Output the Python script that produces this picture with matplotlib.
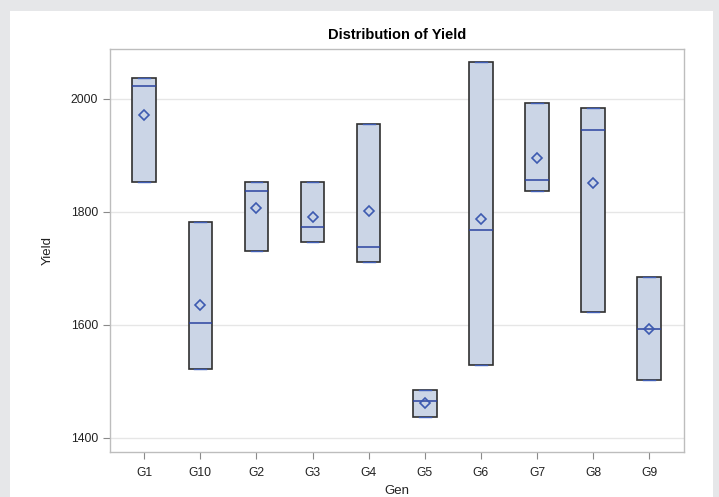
import matplotlib
matplotlib.use("Agg")
import matplotlib.pyplot as plt
import numpy as np
from matplotlib.patches import Rectangle

plt.rcParams['font.family'] = ['Liberation Sans', 'DejaVu Sans']

gens = ["G1", "G10", "G2", "G3", "G4", "G5", "G6", "G7", "G8", "G9"]
obs_G1 = [1852, 2022, 2037]
obs_G10 = [1521, 1602, 1781]
obs_G2 = [1730, 1837, 1852]
obs_G3 = [1746, 1772, 1852]
obs_G4 = [1710, 1737, 1956]
obs_G5 = [1436, 1465, 1484]
obs_G6 = [1528, 1767, 2065]
obs_G7 = [1837, 1856, 1993]
obs_G8 = [1623, 1945, 1983]
obs_G9 = [1502, 1593, 1684]
all_obs = [obs_G1, obs_G10, obs_G2, obs_G3, obs_G4, obs_G5, obs_G6, obs_G7, obs_G8, obs_G9]
yticks = [1400, 1600, 1800, 2000]

W, H = 719, 497
fig = plt.figure(figsize=(W / 100, H / 100), dpi=100)
fig.patch.set_facecolor('#E6E7E9')
bg = Rectangle((10 / W, 0), (713 - 10) / W, 1 - 11 / H,
               transform=fig.transFigure, facecolor='white',
               edgecolor='none', zorder=-10)
fig.patches.append(bg)

ax = fig.add_axes([110 / W, 1 - 451.7 / H, (684 - 110) / W, (451.7 - 49) / H])
ax.set_zorder(1)

stats = []
for g, o in zip(gens, all_obs):
    a = np.sort(np.array(o, dtype=float))
    stats.append(dict(label=g, med=np.median(a), q1=a.min(), q3=a.max(),
                      whislo=a.min(), whishi=a.max(), mean=a.mean(), fliers=[]))

pos = np.arange(len(gens))
ax.bxp(stats, positions=pos, widths=0.42, showmeans=True, patch_artist=True,
       showcaps=True, capwidths=0.21,
       boxprops=dict(facecolor='#CBD5E6', edgecolor='#303030', linewidth=1.2),
       medianprops=dict(color='#2B43A0', linewidth=1.1),
       whiskerprops=dict(color='#2B43A0', linewidth=1.0),
       capprops=dict(color='#3F5DB5', linewidth=1.0),
       meanprops=dict(marker='D', markerfacecolor='none', markeredgecolor='#3D5AB0',
                      markersize=5.5, markeredgewidth=1.2))

ax.set_xlim(-0.61, 9.62)
ax.set_ylim(1375, 2088)
ax.set_yticks(yticks)
ax.set_xticks(pos)
ax.set_xticklabels(gens)
ax.grid(axis='y', color='#E6E6E6', linewidth=1.0, zorder=0)
ax.set_axisbelow(True)
for s in ax.spines.values():
    s.set_color('#BDBDBD')
    s.set_linewidth(1.0)
ax.tick_params(axis='both', colors='#8A8A8A', labelcolor='#222222', labelsize=8.7,
               length=5, width=0.8)
ax.tick_params(axis='x', pad=6)
ax.set_xlabel('Gen', fontsize=9.5, color='#222222', labelpad=4)
ax.set_ylabel('Yield', fontsize=9.5, color='#222222', labelpad=12)
ax.set_title('Distribution of Yield', fontsize=10.5, fontweight='bold', pad=7)

fig.savefig('out.png', dpi=100, facecolor=fig.get_facecolor())
